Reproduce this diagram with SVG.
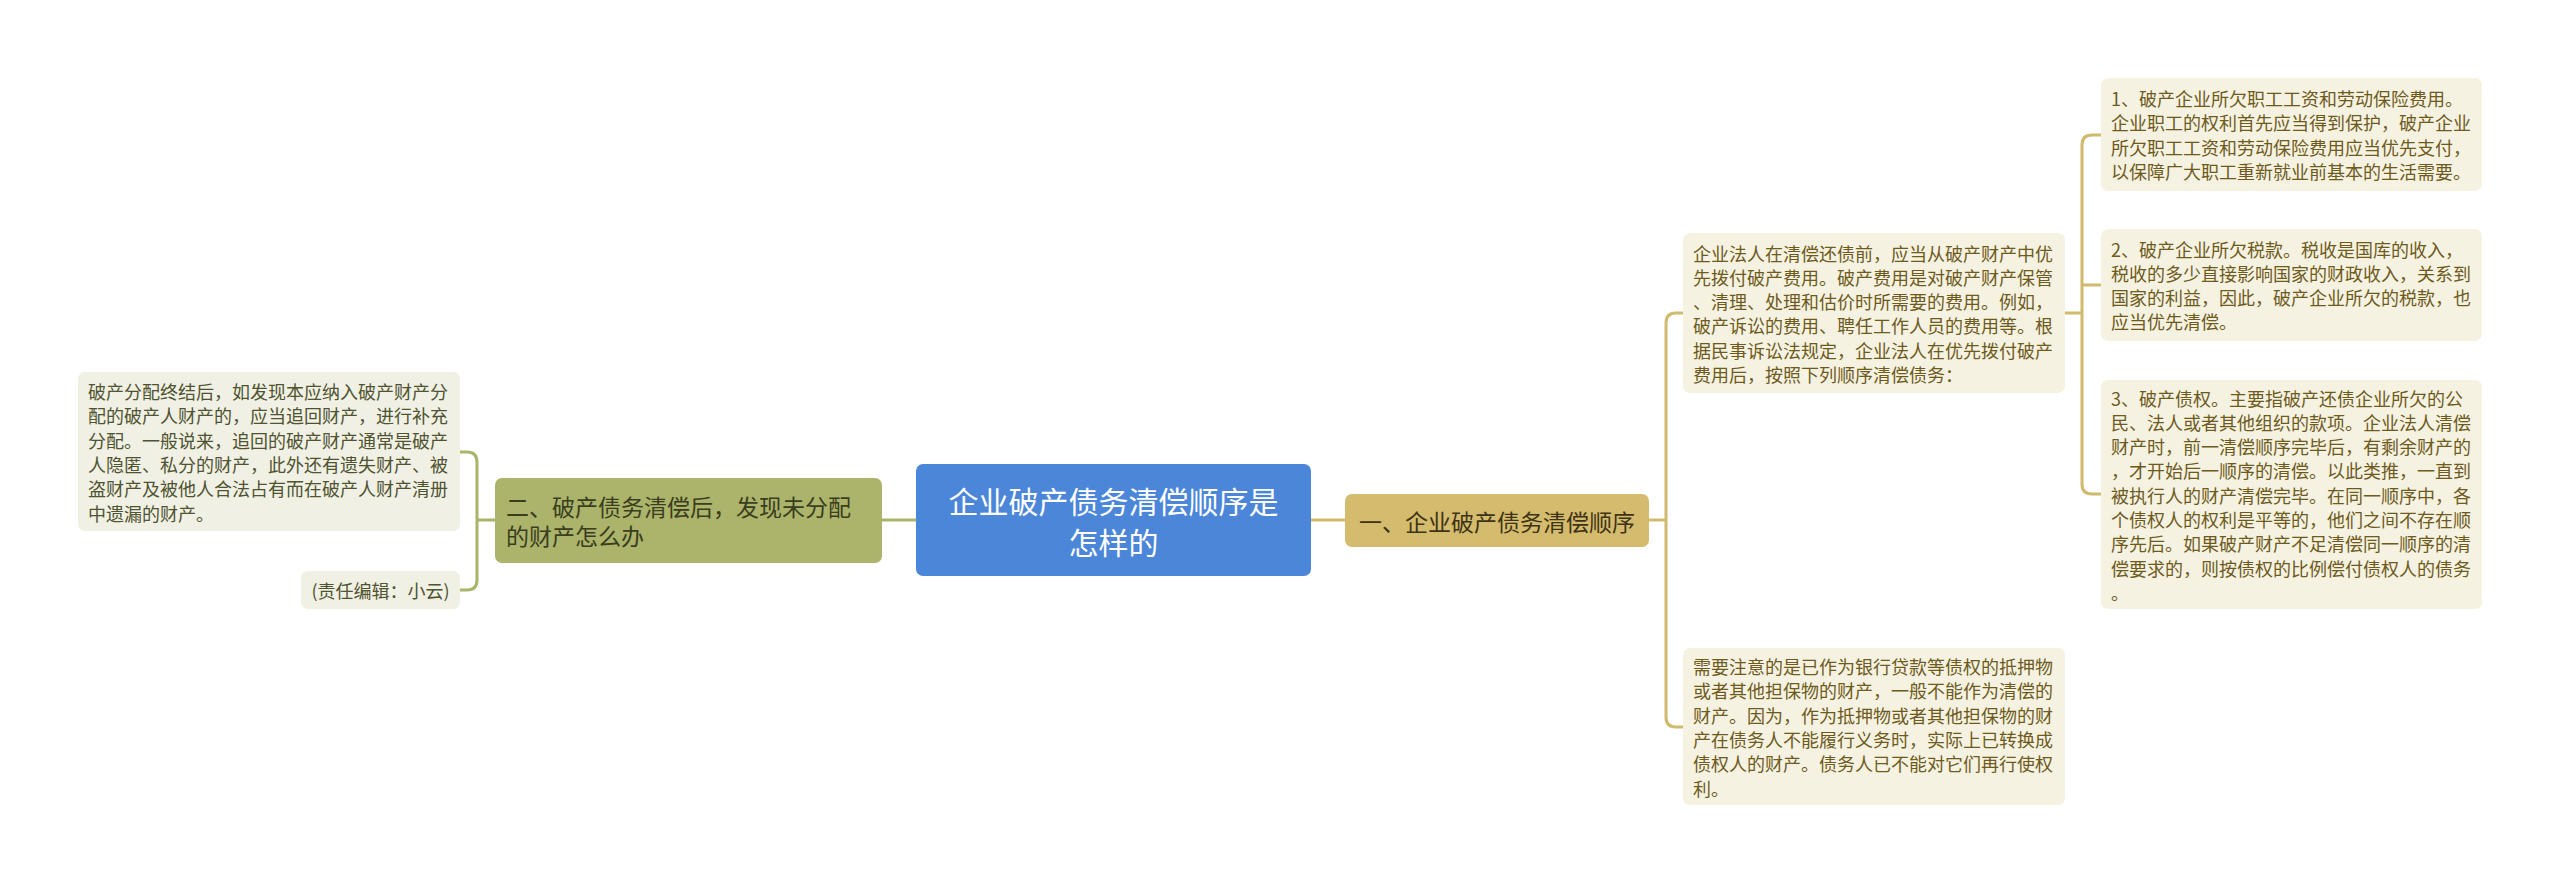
<svg xmlns="http://www.w3.org/2000/svg" width="2560" height="885" viewBox="0 0 2560 885">
<style>
text{font-family:"Noto Sans CJK SC","Noto Sans",sans-serif;}
.leafR{fill:#f5f2e1;}
.leafL{fill:#f0f0e4;}
.tR{font-size:18px;fill:#6e5a1c;dominant-baseline:central;}
.tL{font-size:18px;fill:#4f5330;dominant-baseline:central;}
.cG{fill:none;stroke:#d1b96d;stroke-width:3;}
.cO{fill:none;stroke:#aab46b;stroke-width:3;}
</style>
<rect width="2560" height="885" fill="#ffffff"/>
<g id="connectors">
<path class="cO" d="M882,520 H916"/>
<path class="cG" d="M1311,520 H1345"/>
<path class="cO" d="M495,520 H477 M460,452 H467 Q477,452 477,462 V580 Q477,590 467,590 H460"/>
<path class="cG" d="M1649,520 H1666 M1683,313 H1676 Q1666,313 1666,323 V717 Q1666,727 1676,727 H1683"/>
<path class="cG" d="M2065,313 H2082 M2101,135 H2092 Q2082,135 2082,145 V484 Q2082,494 2092,494 H2101 M2082,285 H2101"/>
</g>
<g id="root">
<rect x="916" y="464" width="395" height="112" rx="7" fill="#4b86d9"/>
<text x="1113.5" y="500" font-size="30" fill="#ffffff" text-anchor="middle" dominant-baseline="central">企业破产债务清偿顺序是</text>
<text x="1113.5" y="541" font-size="30" fill="#ffffff" text-anchor="middle" dominant-baseline="central">怎样的</text>
</g>
<g id="sub-right">
<rect x="1345" y="494" width="304" height="53" rx="7" fill="#d4bb6d"/>
<text x="1497" y="521" font-size="23" fill="#3d3315" text-anchor="middle" dominant-baseline="central">一、企业破产债务清偿顺序</text>
</g>
<g id="sub-left">
<rect x="495" y="478" width="387" height="85" rx="7" fill="#abb46a"/>
<text x="506" y="506" font-size="23" fill="#3a3d1e" dominant-baseline="central">二、破产债务清偿后，发现未分配</text>
<text x="506" y="535" font-size="23" fill="#3a3d1e" dominant-baseline="central">的财产怎么办</text>
</g>
<g id="left-leaf-1">
<rect class="leafL" x="78" y="372" width="382" height="159" rx="7"/>
<text class="tL" x="88"><tspan x="88" y="391">破产分配终结后，如发现本应纳入破产财产分</tspan><tspan x="88" y="415.3">配的破产人财产的，应当追回财产，进行补充</tspan><tspan x="88" y="439.6">分配。一般说来，追回的破产财产通常是破产</tspan><tspan x="88" y="463.9">人隐匿、私分的财产，此外还有遗失财产、被</tspan><tspan x="88" y="488.2">盗财产及被他人合法占有而在破产人财产清册</tspan><tspan x="88" y="512.5">中遗漏的财产。</tspan></text>
</g>
<g id="left-leaf-2">
<rect class="leafL" x="301" y="571" width="159" height="38" rx="7"/>
<text class="tL" x="380.5" y="590" text-anchor="middle">(责任编辑：小云)</text>
</g>
<g id="leaf-a">
<rect class="leafR" x="1683" y="233" width="382" height="160" rx="7"/>
<text class="tR"><tspan x="1693" y="252.5">企业法人在清偿还债前，应当从破产财产中优</tspan><tspan x="1693" y="276.8">先拨付破产费用。破产费用是对破产财产保管</tspan><tspan x="1693" y="301.1">、清理、处理和估价时所需要的费用。例如，</tspan><tspan x="1693" y="325.4">破产诉讼的费用、聘任工作人员的费用等。根</tspan><tspan x="1693" y="349.7">据民事诉讼法规定，企业法人在优先拨付破产</tspan><tspan x="1693" y="374">费用后，按照下列顺序清偿债务：</tspan></text>
</g>
<g id="leaf-b">
<rect class="leafR" x="1683" y="648" width="382" height="157" rx="7"/>
<text class="tR"><tspan x="1693" y="666">需要注意的是已作为银行贷款等债权的抵押物</tspan><tspan x="1693" y="690.3">或者其他担保物的财产，一般不能作为清偿的</tspan><tspan x="1693" y="714.6">财产。因为，作为抵押物或者其他担保物的财</tspan><tspan x="1693" y="738.9">产在债务人不能履行义务时，实际上已转换成</tspan><tspan x="1693" y="763.2">债权人的财产。债务人已不能对它们再行使权</tspan><tspan x="1693" y="787.5">利。</tspan></text>
</g>
<g id="leaf-1">
<rect class="leafR" x="2101" y="78" width="381" height="113" rx="7"/>
<text class="tR"><tspan x="2111" y="98">1、破产企业所欠职工工资和劳动保险费用。</tspan><tspan x="2111" y="122.3">企业职工的权利首先应当得到保护，破产企业</tspan><tspan x="2111" y="146.6">所欠职工工资和劳动保险费用应当优先支付，</tspan><tspan x="2111" y="170.9">以保障广大职工重新就业前基本的生活需要。</tspan></text>
</g>
<g id="leaf-2">
<rect class="leafR" x="2101" y="229" width="381" height="112" rx="7"/>
<text class="tR"><tspan x="2111" y="248.5">2、破产企业所欠税款。税收是国库的收入，</tspan><tspan x="2111" y="272.8">税收的多少直接影响国家的财政收入，关系到</tspan><tspan x="2111" y="297.1">国家的利益，因此，破产企业所欠的税款，也</tspan><tspan x="2111" y="321.4">应当优先清偿。</tspan></text>
</g>
<g id="leaf-3">
<rect class="leafR" x="2101" y="380" width="381" height="229" rx="7"/>
<text class="tR"><tspan x="2111" y="397.5">3、破产债权。主要指破产还债企业所欠的公</tspan><tspan x="2111" y="421.8">民、法人或者其他组织的款项。企业法人清偿</tspan><tspan x="2111" y="446.1">财产时，前一清偿顺序完毕后，有剩余财产的</tspan><tspan x="2111" y="470.4">，才开始后一顺序的清偿。以此类推，一直到</tspan><tspan x="2111" y="494.7">被执行人的财产清偿完毕。在同一顺序中，各</tspan><tspan x="2111" y="519">个债权人的权利是平等的，他们之间不存在顺</tspan><tspan x="2111" y="543.3">序先后。如果破产财产不足清偿同一顺序的清</tspan><tspan x="2111" y="567.6">偿要求的，则按债权的比例偿付债权人的债务</tspan><tspan x="2111" y="591.9">。</tspan></text>
</g>
</svg>
